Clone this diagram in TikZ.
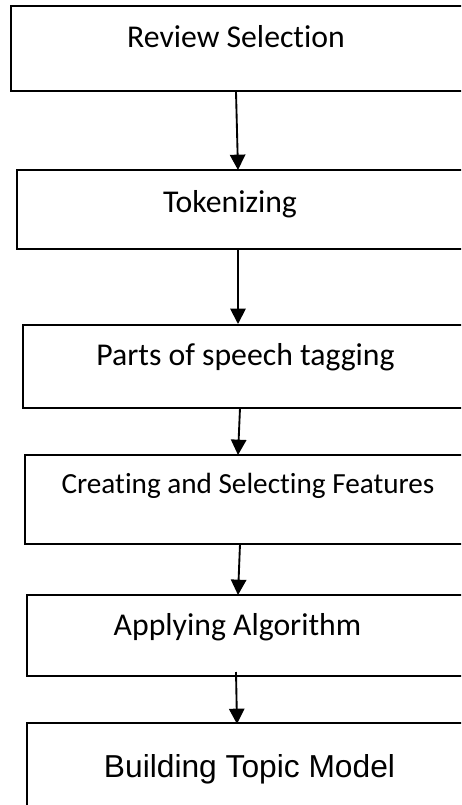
\documentclass[tikz,border=0pt]{standalone}
\usepackage{fontspec}
\setmainfont{Carlito}[Ligatures=NoCommon]
\newfontfamily\arialfont{Liberation Sans}
\usepackage{tikz}
\usetikzlibrary{arrows.meta,calc}

\tikzset{
  stepbox/.style={
    inner sep=0pt,
    outer sep=0pt
  },
  edge/.style={line width=1.1pt},
  steptext/.style={anchor=base, inner sep=0pt, font=\fontsize{23.8pt}{28pt}\selectfont},
  flow/.style={-{Triangle[length=11.5pt,width=11.5pt]}, line width=1.4pt}
}

\begin{document}
\begin{tikzpicture}[x=0.75pt, y=-0.75pt]
    \useasboundingbox (0,0) rectangle (461,805);
    \clip (0,0) rectangle (461,805);

    % boxes (they run past the right edge of the page)
    \node[stepbox, minimum width=374.25pt, minimum height=63.75pt] (rev) at (260.5,48.5) {};
    \node[stepbox, minimum width=369.75pt, minimum height=59.25pt] (tok) at (263.5,209.5) {};
    \node[stepbox, minimum width=365.25pt, minimum height=62.25pt] (pos) at (266.5,366.5) {};
    \node[stepbox, minimum width=363.75pt, minimum height=66.75pt] (feat) at (267.5,499.5) {};
    \node[stepbox, minimum width=362.25pt, minimum height=60.75pt] (algo) at (268.5,635.5) {};
    \node[stepbox, minimum width=362.25pt, minimum height=72.75pt] (topic) at (268.5,771.5) {};

    \draw[edge, line width=1.5pt] (rev.north east) -- (rev.north west) -- (rev.south west) -- (rev.south east);
    \foreach \b in {tok,pos,feat,algo,topic}
      \draw[edge] (\b.north east) -- (\b.north west) -- (\b.south west) -- (\b.south east);

    % texts
    \node[steptext] (revtxt) at (236,48) {Review Selection};
    \node[steptext] (toktxt) at (230,213) {Tokenizing};
    \node[steptext] (postxt) at (245.5,365) {Parts of speech tagging};
    \node[steptext, font=\fontsize{21.9pt}{26pt}\selectfont] (feattxt) at (248,493) {Creating and Selecting Features};
    \node[steptext] (algotxt) at (237.5,635) {Applying Algorithm};
    \node[steptext, font=\arialfont\fontsize{23.8pt}{28pt}\selectfont] (topictxt) at (249.5,777) {Building Topic Model};

    % arrows
    \draw[flow] ($(rev.south west)+(225,1)$) -- ($(tok.north west)+(221,0)$);
    \draw[flow] ($(tok.south west)+(221,0)$) -- ($(pos.north west)+(215,-1)$);
    \draw[flow] ($(pos.south west)+(217,0)$) -- ($(feat.north west)+(213,0)$);
    \draw[flow] ($(feat.south west)+(215,0)$) -- ($(algo.north west)+(211,0)$);
    \draw[flow] ($(algo.south west)+(209,-4)$) -- ($(topic.north west)+(210,1)$);
\end{tikzpicture}
\end{document}
